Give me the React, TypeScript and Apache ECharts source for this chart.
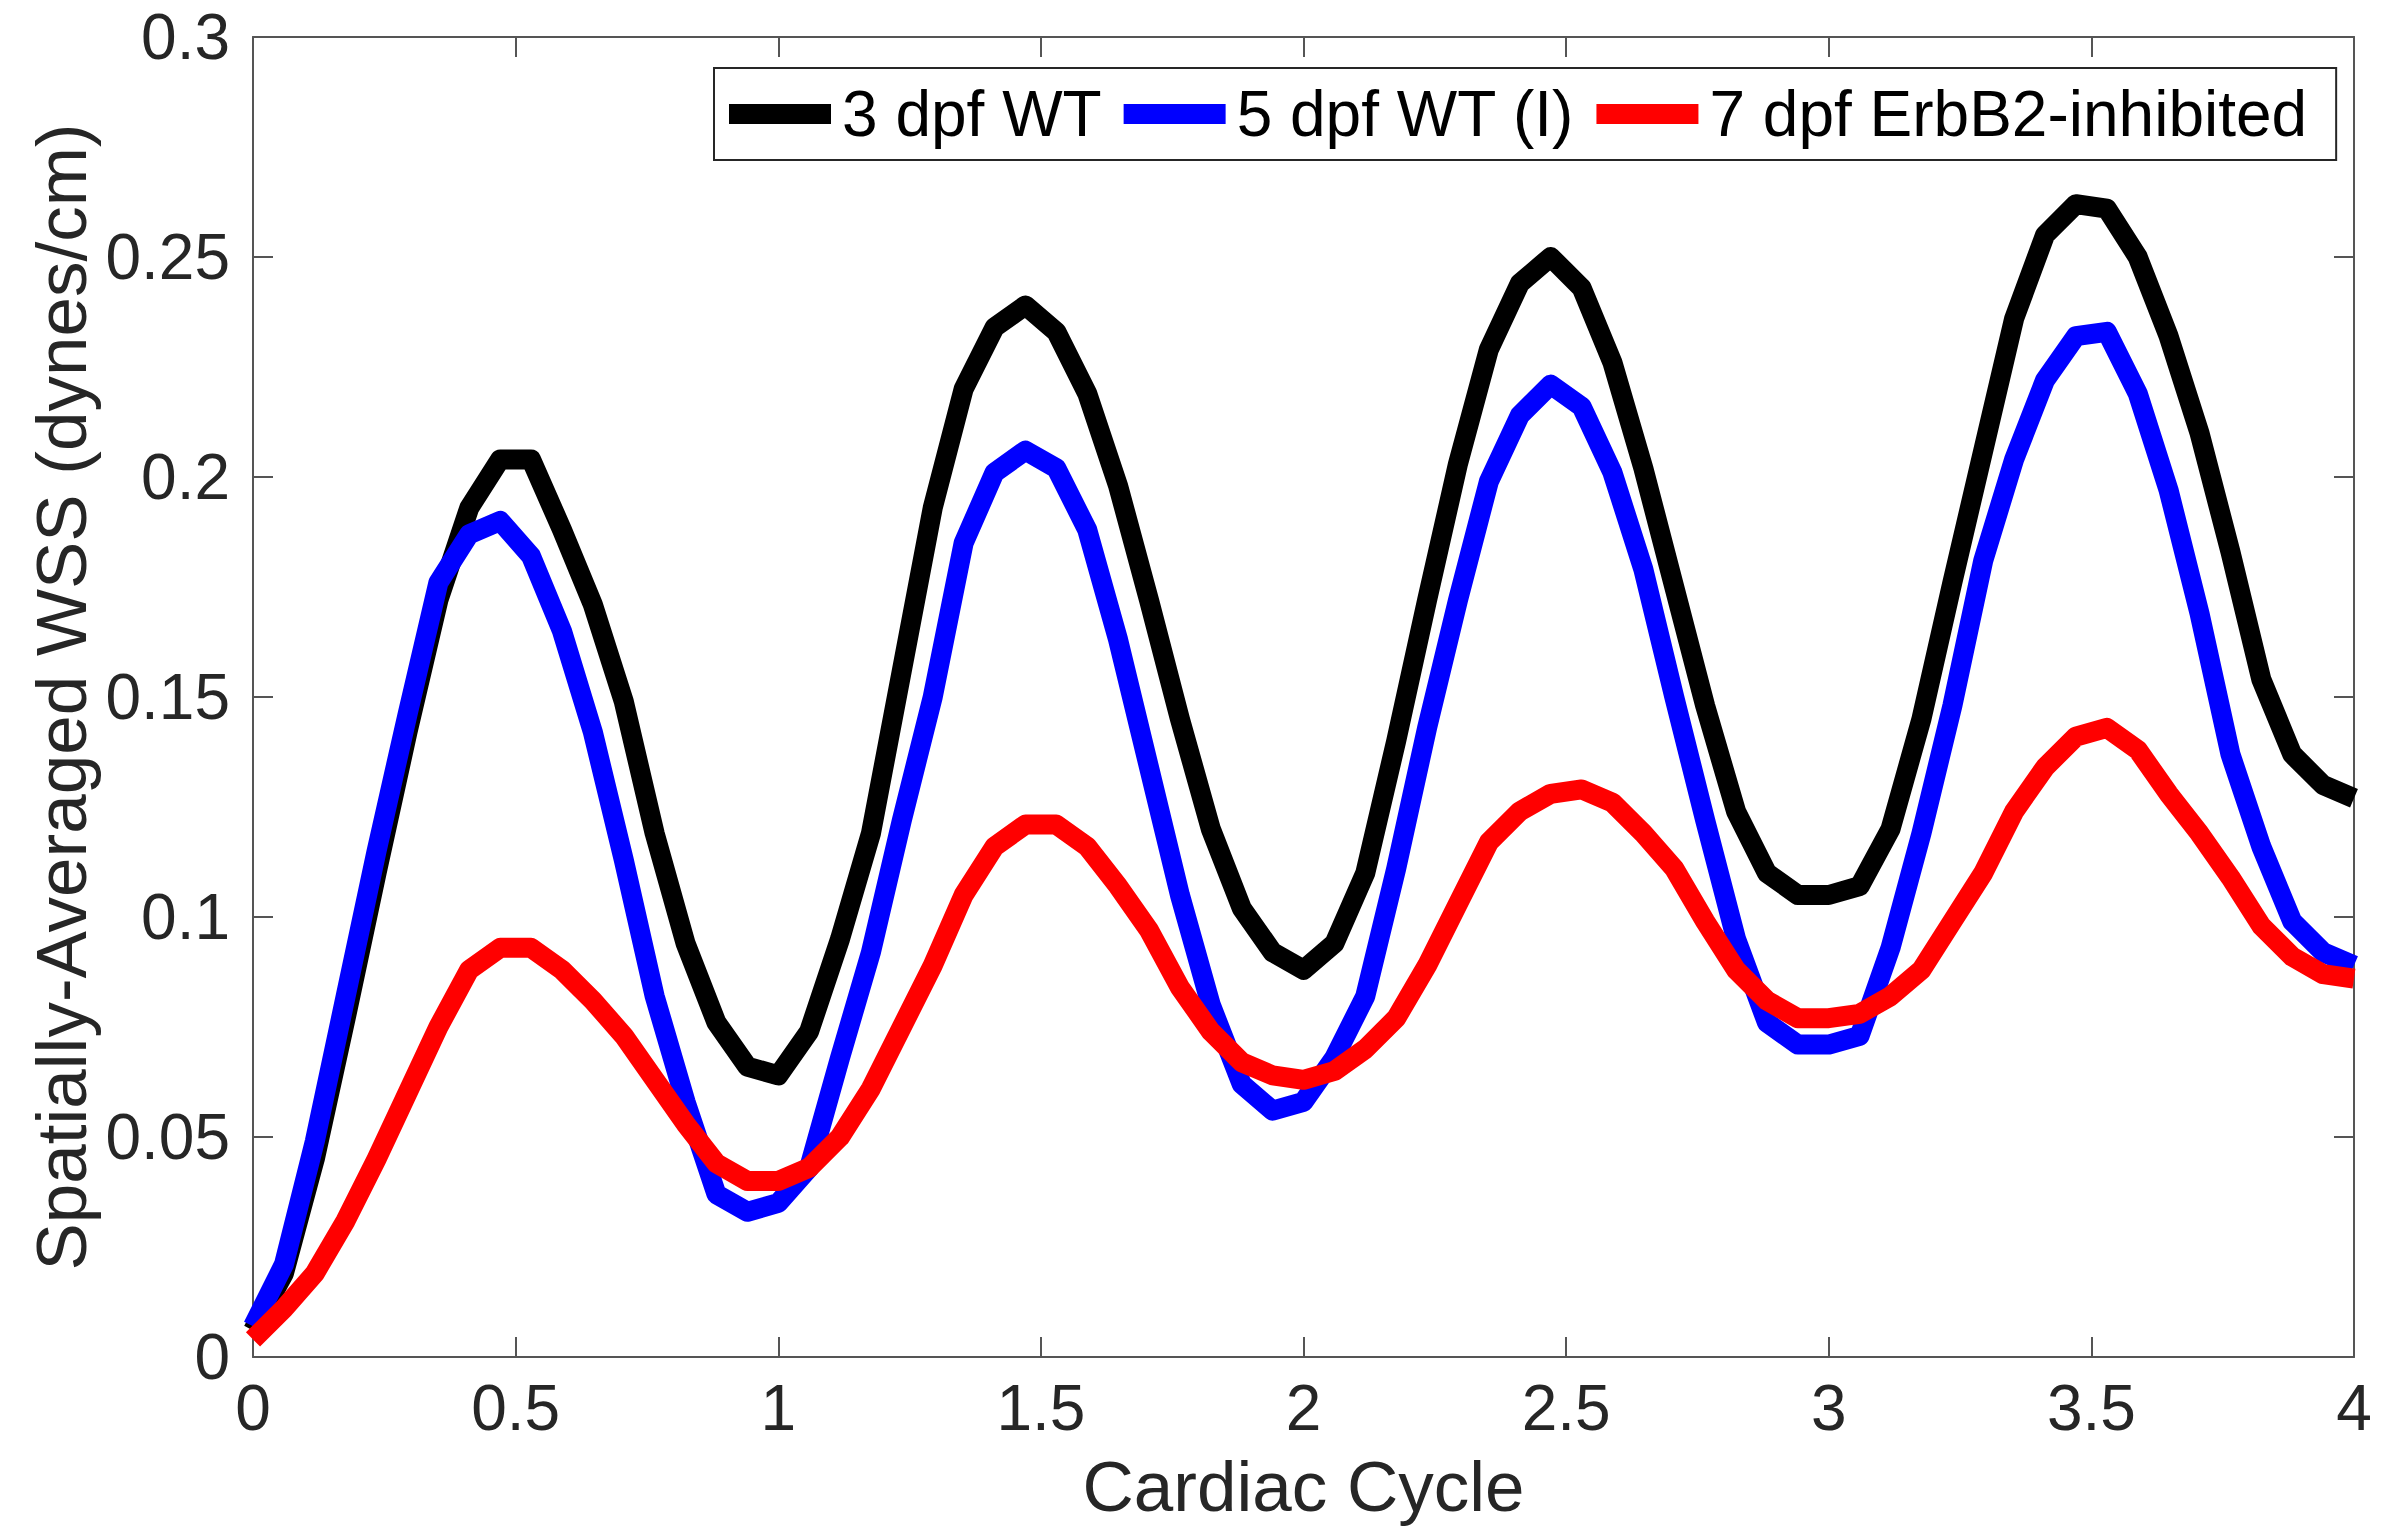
import { useEffect, useRef } from "react";
import * as echarts from "echarts";

// Samples per cardiac cycle (x grid of the recorded series)
const SAMPLES_PER_CYCLE = 17;

const X_TICKS = [0, 0.5, 1, 1.5, 2, 2.5, 3, 3.5, 4];
const Y_TICKS = [0, 0.05, 0.1, 0.15, 0.2, 0.25, 0.3];

const SERIES_NAMES = ["3 dpf WT", "5 dpf WT (I)", "7 dpf ErbB2-inhibited"];
const SERIES_COLORS = ["#000000", "#0000ff", "#ff0000"];

const WT3 = [
  0.006, 0.019, 0.045, 0.077, 0.110, 0.142, 0.172, 0.193, 0.204, 0.204, 0.188, 0.171, 0.149, 0.119, 0.094, 0.076, 0.066, 0.064,
  0.074, 0.095, 0.119, 0.156, 0.193, 0.220, 0.234, 0.239, 0.233, 0.219, 0.198, 0.172, 0.145, 0.120, 0.102, 0.092, 0.088,
  0.094, 0.110, 0.140, 0.172, 0.203, 0.229, 0.244, 0.250, 0.243, 0.226, 0.202, 0.175, 0.148, 0.124, 0.110, 0.105, 0.105,
  0.107, 0.120, 0.145, 0.176, 0.206, 0.236, 0.255, 0.262, 0.261, 0.250, 0.232, 0.210, 0.183, 0.154, 0.137, 0.130, 0.127,
];

const WT5 = [
  0.007, 0.021, 0.049, 0.082, 0.115, 0.146, 0.176, 0.187, 0.190, 0.182, 0.165, 0.142, 0.113, 0.082, 0.058, 0.037, 0.033, 0.035,
  0.043, 0.068, 0.092, 0.122, 0.150, 0.185, 0.201, 0.206, 0.202, 0.188, 0.163, 0.134, 0.105, 0.080, 0.062, 0.056, 0.058,
  0.068, 0.082, 0.111, 0.143, 0.172, 0.199, 0.214, 0.221, 0.216, 0.201, 0.179, 0.150, 0.122, 0.095, 0.076, 0.071, 0.071,
  0.073, 0.093, 0.119, 0.148, 0.181, 0.204, 0.222, 0.232, 0.233, 0.219, 0.197, 0.169, 0.137, 0.116, 0.099, 0.092, 0.089,
];

const ERBB2 = [
  0.004, 0.011, 0.019, 0.031, 0.045, 0.060, 0.075, 0.088, 0.093, 0.093, 0.088, 0.081, 0.073, 0.063, 0.053, 0.044, 0.040, 0.040,
  0.043, 0.050, 0.061, 0.075, 0.089, 0.105, 0.116, 0.121, 0.121, 0.116, 0.107, 0.097, 0.084, 0.074, 0.067, 0.064, 0.063,
  0.065, 0.070, 0.077, 0.089, 0.103, 0.117, 0.124, 0.128, 0.129, 0.126, 0.119, 0.111, 0.099, 0.088, 0.081, 0.077, 0.077,
  0.078, 0.082, 0.088, 0.099, 0.110, 0.124, 0.134, 0.141, 0.143, 0.138, 0.128, 0.119, 0.109, 0.098, 0.091, 0.087, 0.086,
];

const VALUES = [WT3, WT5, ERBB2];

const FONT = "'Liberation Sans', Arial, Helvetica, sans-serif";
const AXIS_COLOR = "#555555";
const TEXT_COLOR = "#262626";

function buildOption() {
  const axisLine = { show: true, onZero: false, lineStyle: { color: AXIS_COLOR, width: 2 } };
  const axisTick = { show: true, inside: true, length: 20, lineStyle: { color: AXIS_COLOR, width: 2 } };
  const fmt = (v: number) => String(Math.round(v * 100) / 100);

  return {
    animation: false,
    backgroundColor: "#ffffff",
    textStyle: { fontFamily: FONT },
    grid: { left: 253, right: 41, top: 37, bottom: 175, containLabel: false },
    legend: {
      data: SERIES_NAMES,
      left: 714,
      top: 68,
      orient: "horizontal",
      icon: "rect",
      itemWidth: 102,
      itemHeight: 20,
      itemGap: 22,
      padding: [14, 29, 14, 15],
      borderColor: "#262626",
      borderWidth: 2,
      backgroundColor: "#ffffff",
      textStyle: { fontSize: 64, color: "#000000", fontFamily: FONT, padding: [0, 0, 0, 6], lineHeight: 64 },
      z: 10,
    },
    xAxis: [
      {
        type: "value",
        min: X_TICKS[0],
        max: X_TICKS[X_TICKS.length - 1],
        interval: 0.5,
        position: "bottom",
        axisLine,
        axisTick,
        splitLine: { show: false },
        axisLabel: { fontSize: 64, lineHeight: 52, color: TEXT_COLOR, margin: 25, fontFamily: FONT, formatter: fmt },
        name: "Cardiac Cycle",
        nameLocation: "middle",
        nameGap: 99,
        nameMoveOverlap: false,
        nameTextStyle: { fontSize: 71, lineHeight: 60, color: TEXT_COLOR, fontFamily: FONT },
      },
      {
        type: "value",
        min: X_TICKS[0],
        max: X_TICKS[X_TICKS.length - 1],
        interval: 0.5,
        position: "top",
        axisLine,
        axisTick,
        splitLine: { show: false },
        axisLabel: { show: false },
      },
    ],
    yAxis: [
      {
        type: "value",
        min: Y_TICKS[0],
        max: Y_TICKS[Y_TICKS.length - 1],
        interval: 0.05,
        position: "left",
        axisLine,
        axisTick,
        splitLine: { show: false },
        axisLabel: { fontSize: 64, color: TEXT_COLOR, margin: 23, fontFamily: FONT, formatter: fmt },
        name: "Spatially-Averaged WSS (dynes/cm)",
        nameLocation: "middle",
        nameGap: 156,
        nameMoveOverlap: false,
        nameTextStyle: { fontSize: 71, color: TEXT_COLOR, fontFamily: FONT },
      },
      {
        type: "value",
        min: Y_TICKS[0],
        max: Y_TICKS[Y_TICKS.length - 1],
        interval: 0.05,
        position: "right",
        axisLine,
        axisTick,
        splitLine: { show: false },
        axisLabel: { show: false },
      },
    ],
    series: VALUES.map((vals, s) => ({
      name: SERIES_NAMES[s],
      type: "line",
      xAxisIndex: 0,
      yAxisIndex: 0,
      data: vals.map((v, i) => [i / SAMPLES_PER_CYCLE, v]),
      showSymbol: false,
      symbol: "none",
      clip: false,
      color: SERIES_COLORS[s],
      itemStyle: { color: SERIES_COLORS[s] },
      lineStyle: { color: SERIES_COLORS[s], width: 20, join: "round", cap: "butt" },
      z: 2 + s,
    })),
  };
}

export default function App() {
  const ref = useRef<HTMLDivElement>(null);
  useEffect(() => {
    document.body.style.margin = "0";
    const chart = echarts.init(ref.current as HTMLDivElement, null, { renderer: "svg" });
    chart.setOption(buildOption() as any);
    return () => chart.dispose();
  }, []);
  return <div ref={ref} style={{ width: 2395, height: 1532, background: "#ffffff" }} />;
}
